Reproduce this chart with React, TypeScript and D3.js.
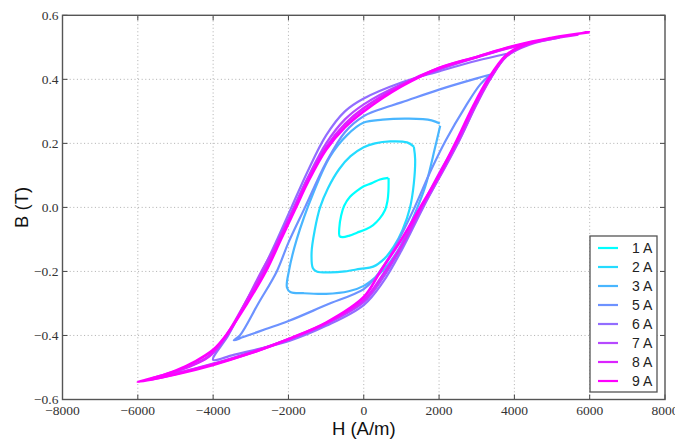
import React, { useEffect, useRef } from 'react';
import * as d3 from 'd3';

const W = 675;
const H = 439;
const margin = { top: 15.3, right: 10, bottom: 39.5, left: 62.5 };

type Pt = [number, number];

// [H (A/m), B (T)], each loop: upper branch then lower branch
const loop1A: Pt[] = [
  [655, 0.092], [430, 0.087], [200, 0.075], [0, 0.066], [-200, 0.05], [-365, 0.033], [-520, 0.005],
  [-600, -0.025], [-650, -0.065], [-640, -0.09],
  [-560, -0.093], [-380, -0.088], [-180, -0.079], [60, -0.068], [250, -0.055], [420, -0.035],
  [565, -0.008], [630, 0.02], [655, 0.05], [660, 0.092],
];

const loop2A: Pt[] = [
  [1330, 0.19], [1150, 0.203], [700, 0.206], [300, 0.2], [0, 0.188], [-350, 0.16], [-650, 0.12],
  [-950, 0.06], [-1160, 0.0], [-1300, -0.07], [-1385, -0.14], [-1350, -0.19], [-1250, -0.2],
  [-900, -0.203], [-500, -0.2], [-100, -0.192], [250, -0.185], [550, -0.16], [800, -0.122],
  [1030, -0.07], [1230, 0.0], [1330, 0.075], [1365, 0.15], [1330, 0.19],
];

const loop3A: Pt[] = [
  [2020, 0.262], [1800, 0.272], [1200, 0.277], [500, 0.274], [0, 0.265], [-450, 0.225],
  [-900, 0.158], [-1340, 0.045], [-1780, -0.1], [-1990, -0.2], [-2040, -0.25], [-1950, -0.264],
  [-1600, -0.268], [-1000, -0.27], [-400, -0.262], [0, -0.245], [430, -0.206], [700, -0.17],
  [965, -0.123], [1320, -0.03], [1630, 0.064], [1900, 0.19], [2030, 0.255],
];

const loop5A: Pt[] = [
  [3370, 0.415], [3000, 0.403], [2000, 0.368], [1000, 0.328], [400, 0.305], [0, 0.285],
  [-500, 0.235], [-1000, 0.14], [-1560, 0.0], [-2000, -0.11], [-2310, -0.2], [-2800, -0.3],
  [-3290, -0.4], [-3450, -0.415],
  [-3200, -0.405], [-2600, -0.38], [-2000, -0.355], [-1000, -0.305], [0, -0.255], [300, -0.22],
  [650, -0.16], [1000, -0.085], [1350, 0.0], [1800, 0.12], [2180, 0.21], [2700, 0.315],
  [3100, 0.385], [3370, 0.415],
];

const loop6A: Pt[] = [
  [3800, 0.48], [3000, 0.458], [2000, 0.425], [1000, 0.39], [0, 0.34], [-500, 0.3],
  [-1000, 0.225], [-1500, 0.11], [-1920, 0.0], [-2300, -0.1], [-2700, -0.2], [-3150, -0.3],
  [-3600, -0.4], [-4000, -0.476],
  [-3500, -0.462], [-3000, -0.448], [-2000, -0.418], [-1000, -0.37], [0, -0.305], [500, -0.235],
  [1000, -0.135], [1580, 0.0], [2100, 0.115], [2600, 0.225], [3100, 0.35], [3500, 0.43],
  [3800, 0.48],
];

const loop7A: Pt[] = [
  [5200, 0.53], [4000, 0.502], [3000, 0.468], [2000, 0.43], [1000, 0.385], [0, 0.322],
  [-500, 0.275], [-1000, 0.2], [-1500, 0.09], [-1860, 0.0], [-2300, -0.11], [-2720, -0.2],
  [-3200, -0.31], [-3680, -0.41], [-4200, -0.472], [-5200, -0.522],
  [-4000, -0.488], [-3000, -0.452], [-2000, -0.412], [-1000, -0.364], [0, -0.296],
  [500, -0.222], [1000, -0.124], [1560, 0.0], [2100, 0.112], [2500, 0.2], [3000, 0.322],
  [3400, 0.408], [3800, 0.472], [4400, 0.508], [5200, 0.53],
];

const loop8A: Pt[] = [
  [5700, 0.54], [5000, 0.527], [4000, 0.503], [3000, 0.47], [2000, 0.435], [1000, 0.382],
  [0, 0.31], [-500, 0.26], [-1000, 0.188], [-1500, 0.085], [-1830, 0.0], [-2250, -0.1],
  [-2650, -0.2], [-3150, -0.3], [-3650, -0.4], [-4100, -0.465], [-4700, -0.5], [-5700, -0.538],
  [-5000, -0.52], [-4000, -0.49], [-3000, -0.455], [-2000, -0.412], [-1000, -0.362],
  [0, -0.29], [500, -0.212], [1000, -0.12], [1530, 0.0], [2000, 0.105], [2450, 0.2],
  [2950, 0.318], [3350, 0.402], [3780, 0.472], [4300, 0.508], [5000, 0.527], [5700, 0.54],
];

const loop9A: Pt[] = [
  [6000, 0.547], [5000, 0.53], [4000, 0.505], [3000, 0.47], [2000, 0.435], [1000, 0.378],
  [0, 0.3], [-500, 0.25], [-1000, 0.18], [-1500, 0.075], [-1800, 0.0], [-2200, -0.1],
  [-2600, -0.2], [-3100, -0.3], [-3660, -0.4], [-4000, -0.445], [-4460, -0.48], [-5000, -0.51],
  [-5500, -0.53], [-6000, -0.545],
  [-5000, -0.522], [-4000, -0.492], [-3000, -0.455], [-1970, -0.41], [-1000, -0.36],
  [0, -0.28], [440, -0.2], [1000, -0.1], [1500, 0.0], [2000, 0.1], [2430, 0.2], [2900, 0.315],
  [3300, 0.4], [3780, 0.475], [4240, 0.507], [5000, 0.53], [6000, 0.547],
];

const loops: Pt[][] = [loop1A, loop2A, loop3A, loop5A, loop6A, loop7A, loop8A, loop9A];
const seriesNames = ['1 A', '2 A', '3 A', '5 A', '6 A', '7 A', '8 A', '9 A'];
const seriesColors = ['#00ffff', '#24dbff', '#49b6ff', '#6d92ff', '#926dff', '#b649ff', '#db24ff', '#ff00ff'];

const xTicks = [-8000, -6000, -4000, -2000, 0, 2000, 4000, 6000, 8000];
const yTicks = [-0.6, -0.4, -0.2, 0.0, 0.2, 0.4, 0.6];

const minus = (s: string) => s.replace('-', '\u2212');
const serif = "'Liberation Serif', 'DejaVu Serif', serif";
const sans = "'Liberation Sans', Arial, sans-serif";

const App = () => {
  const ref = useRef<SVGSVGElement>(null);

  useEffect(() => {
    const svg = d3.select(ref.current);
    svg.selectAll('*').remove();

    const x = d3.scaleLinear().domain([-8000, 8000]).range([margin.left, W - margin.right]);
    const y = d3.scaleLinear().domain([-0.6, 0.6]).range([H - margin.bottom, margin.top]);
    const x0 = margin.left, x1 = W - margin.right, y0 = H - margin.bottom, y1 = margin.top;

    svg.append('rect').attr('width', W).attr('height', H).attr('fill', '#fff');

    // dotted grid
    const grid = svg.append('g').attr('stroke', '#9a9a9a').attr('stroke-width', 0.8).attr('stroke-dasharray', '1,2.6');
    xTicks.slice(1, -1).forEach(t => grid.append('line').attr('x1', x(t)).attr('x2', x(t)).attr('y1', y0).attr('y2', y1));
    yTicks.slice(1, -1).forEach(t => grid.append('line').attr('y1', y(t)).attr('y2', y(t)).attr('x1', x0).attr('x2', x1));

    const clip = svg.append('clipPath').attr('id', 'plotclip');
    clip.append('rect').attr('x', x0).attr('y', y1).attr('width', x1 - x0).attr('height', y0 - y1);

    const line = d3.line<Pt>().x(d => x(d[0])).y(d => y(d[1])).curve(d3.curveCatmullRom.alpha(0.5));
    const plot = svg.append('g').attr('clip-path', 'url(#plotclip)');
    loops.forEach((pts, i) => {
      plot.append('path')
        .attr('d', line(pts))
        .attr('fill', 'none')
        .attr('stroke', seriesColors[i])
        .attr('stroke-width', i >= 6 ? 2.7 : 2.2)
        .attr('stroke-linejoin', 'round');
    });

    // frame + inward ticks on all sides
    const ax = svg.append('g').attr('stroke', '#444').attr('stroke-width', 1);
    xTicks.forEach(t => {
      ax.append('line').attr('x1', x(t)).attr('x2', x(t)).attr('y1', y0).attr('y2', y0 - 5);
      ax.append('line').attr('x1', x(t)).attr('x2', x(t)).attr('y1', y1).attr('y2', y1 + 5);
    });
    yTicks.forEach(t => {
      ax.append('line').attr('y1', y(t)).attr('y2', y(t)).attr('x1', x0).attr('x2', x0 + 5);
      ax.append('line').attr('y1', y(t)).attr('y2', y(t)).attr('x1', x1).attr('x2', x1 - 5);
    });
    svg.append('rect').attr('x', x0).attr('y', y1).attr('width', x1 - x0).attr('height', y0 - y1)
      .attr('fill', 'none').attr('stroke', '#555').attr('stroke-width', 1.4);

    const fmtY = d3.format('.1f');
    svg.append('g').selectAll('text').data(xTicks).enter().append('text')
      .attr('x', d => x(d)).attr('y', y0 + 15)
      .attr('text-anchor', 'middle')
      .attr('font-family', serif).attr('font-size', 13.5).attr('fill', '#333')
      .text(d => minus(String(d)));
    svg.append('g').selectAll('text').data(yTicks).enter().append('text')
      .attr('x', x0 - 4).attr('y', d => y(d)).attr('dy', '0.35em')
      .attr('text-anchor', 'end')
      .attr('font-family', serif).attr('font-size', 13.5).attr('fill', '#333')
      .text(d => minus(fmtY(d)));

    svg.append('text').attr('x', x(0)).attr('y', 435).attr('text-anchor', 'middle')
      .attr('font-family', sans).attr('font-size', 18.5).attr('fill', '#111')
      .text('H (A/m)');
    svg.append('text').attr('transform', `translate(28, ${y(0)}) rotate(-90)`).attr('text-anchor', 'middle')
      .attr('font-family', sans).attr('font-size', 18.5).attr('fill', '#111')
      .text('B (T)');

    // legend
    const lg = svg.append('g');
    lg.append('rect').attr('x', 590).attr('y', 236).attr('width', 67).attr('height', 156)
      .attr('fill', '#fff').attr('stroke', '#555').attr('stroke-width', 1.3);
    seriesNames.forEach((name, i) => {
      const ly = 248 + i * 19;
      lg.append('line').attr('x1', 598).attr('x2', 618).attr('y1', ly).attr('y2', ly)
        .attr('stroke', seriesColors[i]).attr('stroke-width', 2.2);
      lg.append('text').attr('x', 632).attr('y', ly).attr('dy', '0.36em')
        .attr('font-family', sans).attr('font-size', 14).attr('fill', '#222')
        .text(name);
    });
  }, []);

  return (
    <svg ref={ref} width={W} height={H} style={{ position: 'absolute', left: 0, top: 0 }} />
  );
};

export default App;
